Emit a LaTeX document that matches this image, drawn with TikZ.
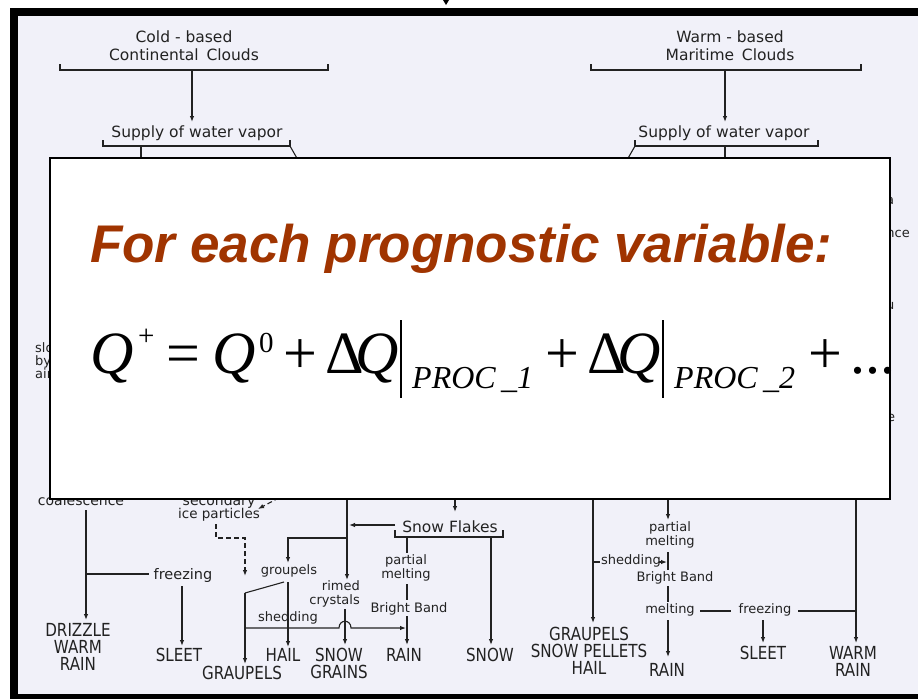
\documentclass[tikz,border=0pt]{standalone}
\usepackage{fontspec}
\usetikzlibrary{arrows.meta}
\newfontfamily\djf{DejaVu Sans}
\newfontfamily\djcaps[FakeStretch=0.84]{DejaVu Sans}
\newfontfamily\helf{Liberation Sans}
\newfontfamily\tnrf{Liberation Serif}
\definecolor{ink}{RGB}{34,34,34}
\definecolor{paper}{RGB}{241,241,249}
\definecolor{rust}{RGB}{160,52,0}
\tikzset{
  lbl/.style={inner sep=0pt, text=ink, align=center, font=\djf\fontsize{15.5}{18}\selectfont},
  sml/.style={inner sep=0pt, text=ink, align=center, font=\djf\fontsize{13}{14.5}\selectfont},
  caps/.style={inner sep=0pt, text=ink, align=center, font=\djcaps\fontsize{18}{17}\selectfont},
  ln/.style={draw=ink, line width=1.1pt},
  arr/.style={ln, -{Latex[length=6pt,width=4.5pt]}},
  dsh/.style={ln, dash pattern=on 5pt off 3pt},
  eq/.style={inner sep=0pt, anchor=base west, font=\tnrf\fontsize{60}{60}\selectfont},
  eqsub/.style={eq, font=\tnrf\fontsize{32}{32}\selectfont\itshape},
  eqsup/.style={eq, font=\tnrf\fontsize{29}{29}\selectfont},
  eqbar/.style={inner sep=0pt, fill=black, minimum width=1.6pt, minimum height=78pt},
}
\begin{document}
\begin{tikzpicture}[x=1pt,y=-1pt]
\useasboundingbox (0,0) rectangle (918,699);
\fill[white] (0,0) rectangle (918,699);
\fill[black] (10,8) rectangle (918,699);
\fill[paper] (18,16) rectangle (918,694);
\fill[black] (443,0) -- (449,0) -- (446,5) -- cycle;

% ---------- top: titles ----------
\node[lbl] (cold) at (184,46) {Cold - based\\Continental\hspace{0.5em}Clouds};
\node[lbl] (warm) at (730,46) {Warm - based\\Maritime\hspace{0.5em}Clouds};
\node[lbl] (sup1) at (197,133) {Supply of water vapor};
\node[lbl] (sup2) at (724,133) {Supply of water vapor};

\coordinate (b1l) at (60,64);  \coordinate (b1r) at (328,64);
\draw[ln] (b1l) -- ++(0,6) -| (b1r);
\coordinate (b1m) at (192,70); \coordinate (b1t) at (192,122);
\draw[arr] (b1m) -- (b1t);
\coordinate (b2l) at (103,140); \coordinate (b2r) at (290,140);
\draw[ln] (b2l) -- ++(0,6) -| (b2r);
\coordinate (b2s) at (290,146); \coordinate (b2se) at (298,160);
\draw[ln] (b2s) -- (b2se);
\coordinate (b2v) at (141,146); \coordinate (b2ve) at (141,160);
\draw[ln] (b2v) -- (b2ve);

\coordinate (b3l) at (591,64);  \coordinate (b3r) at (861,64);
\draw[ln] (b3l) -- ++(0,6) -| (b3r);
\coordinate (b3m) at (725,70); \coordinate (b3t) at (725,122);
\draw[arr] (b3m) -- (b3t);
\coordinate (b4l) at (635,140); \coordinate (b4r) at (818,140);
\draw[ln] (b4l) -- ++(0,6) -| (b4r);
\coordinate (b4s) at (635,146); \coordinate (b4se) at (627,160);
\draw[ln] (b4s) -- (b4se);
\coordinate (b4v) at (725,146); \coordinate (b4ve) at (725,160);
\draw[ln] (b4v) -- (b4ve);

% ---------- side fragments ----------
\node[sml, anchor=base west] (fl1) at (35,352) {slow};
\node[sml, anchor=base west] (fl2) at (35,365) {by};
\node[sml, anchor=base west] (fl3) at (35,378) {air};
\node[sml, anchor=base east] (fr2) at (910,237) {coalescence};
\node[sml, anchor=base west] (fr1) at (886,204) {a};
\node[sml, anchor=base west] (fr3) at (886,309) {u};
\node[sml, anchor=base west] (fr4) at (887,421) {e};

% ---------- bottom left ----------
\node[sml, font=\djf\fontsize{14}{15}\selectfont, anchor=base] (coal) at (81,505) {coalescence};
\node[sml, font=\djf\fontsize{14}{15}\selectfont, anchor=base] (secd) at (219,505) {secondary};
\node[sml, font=\djf\fontsize{13.5}{15}\selectfont, anchor=base] (ice) at (219,518) {ice particles};

\coordinate (cv0) at (86,510); \coordinate (cv1) at (86,620);
\draw[arr] (cv0) -- (cv1);
\node[caps] (drz) at (78,647) {DRIZZLE\\WARM\\RAIN};
\node[lbl, font=\djf\fontsize{14.5}{16}\selectfont] (frz1) at (183,575) {freezing};
\coordinate (fj) at (86,574); \coordinate (fje) at (149,574);
\draw[ln] (fj) -- (fje);
\coordinate (f1a) at (182,586); \coordinate (f1b) at (182,646);
\draw[arr] (f1a) -- (f1b);
\node[caps] (slt1) at (179,655) {SLEET};

\coordinate (d1) at (216,524); \coordinate (d2) at (216,538);
\coordinate (d3) at (245,538); \coordinate (d4) at (245,576);
\draw[dsh, -{Latex[length=6pt,width=4.5pt]}] (d1) -- (d2) -- (d3) -- (d4);
\coordinate (da) at (286,494); \coordinate (db) at (258,509);
\draw[dsh, -{Latex[length=6pt,width=4.5pt]}] (da) -- (db);

\node[sml] (grp) at (289,571) {groupels};
\coordinate (g1) at (347,538); \coordinate (g2) at (288,538); \coordinate (g3) at (288,563);
\draw[arr] (g1) -- (g2) -- (g3);
\coordinate (r0) at (347,495); \coordinate (r1) at (347,580);
\draw[arr] (r0) -- (r1);
\node[sml, align=right, anchor=east] (rim) at (360,594) {rimed\\crystals};
\coordinate (rc0) at (345,609); \coordinate (rc1) at (345,645);
\draw[arr] (rc0) -- (rc1);
\node[caps] (sng) at (339,663) {SNOW\\GRAINS};

\coordinate (h0) at (288,582); \coordinate (h1) at (288,647);
\draw[arr] (h0) -- (h1);
\node[caps] (hail1) at (283,655) {HAIL};
\coordinate (gs0) at (284,582); \coordinate (gs1) at (245,593); \coordinate (gs2) at (245,664);
\draw[ln] (gs0) -- (gs1);
\draw[arr] (gs1) -- (gs2);
\node[caps] (grl1) at (242,673) {GRAUPELS};
\coordinate (sh0) at (245,628); \coordinate (sh1) at (339,628);
\coordinate (sh2) at (351,628); \coordinate (sh3) at (406,628);
\draw[arr] (sh0) -- (sh1) .. controls (339,619) and (351,619) .. (sh2) -- (sh3);
\node[sml] (shd1) at (288,618) {shedding};

% ---------- snow flakes ----------
\node[lbl] (sfl) at (450,527) {Snow Flakes};
\coordinate (sf0) at (455,495); \coordinate (sf1) at (455,512);
\draw[arr] (sf0) -- (sf1);
\coordinate (sl0) at (395,525); \coordinate (sl1) at (349,525);
\draw[arr] (sl0) -- (sl1);
\coordinate (sbl) at (395,530); \coordinate (sbr) at (503,530);
\draw[ln] (sbl) -- ++(0,7) -| (sbr);
\coordinate (pa0) at (407,537); \coordinate (pa1) at (407,553);
\draw[ln] (pa0) -- (pa1);
\node[sml] (pm1) at (406,568) {partial\\melting};
\coordinate (pa2) at (407,584); \coordinate (pa3) at (407,600);
\draw[ln] (pa2) -- (pa3);
\node[sml] (bb1) at (409,609) {Bright Band};
\coordinate (pa4) at (407,616); \coordinate (pa5) at (407,645);
\draw[arr] (pa4) -- (pa5);
\node[caps] (rn1) at (404,655) {RAIN};
\coordinate (sn0) at (491,537); \coordinate (sn1) at (491,645);
\draw[arr] (sn0) -- (sn1);
\node[caps] (snw) at (490,655) {SNOW};

% ---------- bottom right ----------
\coordinate (gr0) at (593,495); \coordinate (gr1) at (593,623);
\draw[arr] (gr0) -- (gr1);
\node[caps] (gsh) at (589,651) {GRAUPELS\\SNOW PELLETS\\HAIL};
\coordinate (st0) at (593,562); \coordinate (st1) at (600,562);
\draw[ln] (st0) -- (st1);
\node[sml] (shd2) at (631,561) {shedding};
\coordinate (st2) at (659,562); \coordinate (st3) at (667,562);
\draw[arr] (st2) -- (st3);
\coordinate (m0) at (668,495); \coordinate (m1) at (668,520);
\draw[arr] (m0) -- (m1);
\node[sml] (pm2) at (670,535) {partial\\melting};
\coordinate (m2) at (668,552); \coordinate (m3) at (668,570);
\draw[ln] (m2) -- (m3);
\node[sml] (bb2) at (675,578) {Bright Band};
\coordinate (m4) at (668,586); \coordinate (m5) at (668,602);
\draw[ln] (m4) -- (m5);
\node[sml] (mlt) at (670,610) {melting};
\coordinate (ml0) at (700,611); \coordinate (ml1) at (731,611);
\draw[ln] (ml0) -- (ml1);
\node[sml] (frz2) at (765,610) {freezing};
\coordinate (fz0) at (798,611); \coordinate (fz1) at (856,611);
\draw[ln] (fz0) -- (fz1);
\coordinate (m6) at (668,620); \coordinate (m7) at (668,657);
\draw[arr] (m6) -- (m7);
\node[caps] (rn2) at (667,670) {RAIN};
\coordinate (s2a) at (763,620); \coordinate (s2b) at (763,643);
\draw[arr] (s2a) -- (s2b);
\node[caps] (slt2) at (763,653) {SLEET};
\coordinate (w0) at (856,495); \coordinate (w1) at (856,643);
\draw[arr] (w0) -- (w1);
\node[caps] (wr) at (853,661) {WARM\\RAIN};

% ---------- overlay panel ----------
\node[draw=black, fill=white, line width=1.5pt, inner sep=0pt, anchor=north west,
      minimum width=840pt, minimum height=341pt] (panel) at (49,157) {};
\node[inner sep=0pt, anchor=base west, text=rust,
      font=\helf\bfseries\itshape\fontsize{53}{53}\selectfont] (head) at (90,262)
      {For each prognostic variable:};

\node[eq] (q1) at (90,373) {\itshape Q};
\node[eqsup] (s1) at (138,345) {+};
\node[eq] (e1) at (166,373) {=};
\node[eq] (q2) at (212,373) {\itshape Q};
\node[eqsup] (s2) at (259,352) {0};
\node[eq] (p1) at (283,373) {+};
\node[eq] (d1q) at (325,373) {Δ};
\node[eq] (q3) at (355,373) {\itshape Q};
\node[eqbar] (bar1) at (401,359) {};
\node[eqsub] (r1) at (412,388) {PROC\,\_1};
\node[eq] (p2) at (545,373) {+};
\node[eq] (d2q) at (587,373) {Δ};
\node[eq] (q4) at (617,373) {\itshape Q};
\node[eqbar] (bar2) at (663,359) {};
\node[eqsub] (r2) at (674,388) {PROC\,\_2};
\node[eq] (p3) at (808,373) {+};
\node[eq] (dots) at (850,373) {...};
\end{tikzpicture}
\end{document}
